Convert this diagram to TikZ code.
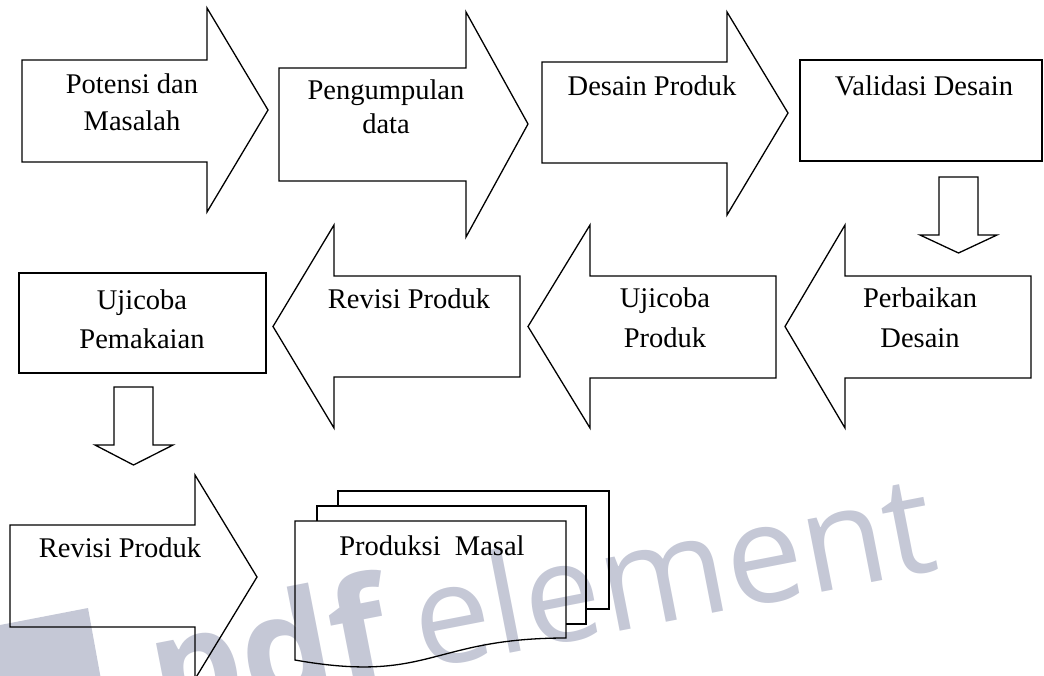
\documentclass[tikz,border=0pt]{standalone}
\usepackage{fontspec}
\setmainfont{Liberation Serif}
\newfontfamily\wmfont{Open Sans}
\definecolor{wm}{RGB}{197,200,214}
\tikzset{
  blk/.style={draw=black, line width=1.3pt, line join=miter},
  lbl/.style={anchor=base, inner sep=0pt, font=\fontsize{28.5}{34}\selectfont},
  wmtxt/.style={anchor=base west, inner sep=0pt, text=wm, rotate=11},
}
\begin{document}
\begin{tikzpicture}[x=1pt,y=-1pt]
\useasboundingbox (0,0) rectangle (1044,675);
\clip (0,0) rectangle (1044,675);
% watermark
\fill[wm] (0,625) -- (88,608) -- (102,685) -- (0,685) -- cycle;
\node[wmtxt, font=\wmfont\bfseries\fontsize{145}{145}\selectfont] (wmpdf) at (160,724) {pdf};
\node[wmtxt, font=\wmfont\fontsize{138}{138}\selectfont] (wmel) at (422,670) {element};
% row 1
\draw[blk] (22,60) -- (207,60) -- (207,8) -- (268,110) -- (207,212) -- (207,162) -- (22,162) -- cycle;
\draw[blk] (279,68) -- (466,68) -- (466,12) -- (528,124) -- (466,237) -- (466,181) -- (279,181) -- cycle;
\draw[blk] (542,62) -- (727,62) -- (727,12) -- (788,113) -- (727,215) -- (727,163) -- (542,163) -- cycle;
\draw[blk] (800,60) rectangle (1042,161);
\draw[blk] (939,177) -- (978,177) -- (978,235) -- (997,235) -- (958.5,253) -- (920,235) -- (939,235) -- cycle;
% row 2
\draw[blk] (1031,276) -- (845,276) -- (845,225) -- (785,326.5) -- (845,428) -- (845,378) -- (1031,378) -- cycle;
\draw[blk] (776,276) -- (590,276) -- (590,225) -- (528,326.5) -- (590,428) -- (590,378) -- (776,378) -- cycle;
\draw[blk] (520,276) -- (334,276) -- (334,225) -- (273,326.5) -- (334,428) -- (334,377) -- (520,377) -- cycle;
\draw[blk] (19,273) rectangle (266,373);
\draw[blk] (114,387) -- (153,387) -- (153,445) -- (173,445) -- (133.5,465) -- (95,445) -- (114,445) -- cycle;
% row 3
\draw[blk] (10,525) -- (195,525) -- (195,475) -- (257,577) -- (195,679) -- (195,627) -- (10,627) -- cycle;
\draw[blk] (338,506) -- (338,491) -- (609,491) -- (609,609) -- (586,609);
\draw[blk] (317,521) -- (317,506) -- (586,506) -- (586,624) -- (566,624);
\draw[blk] (295,521) -- (566,521) -- (566,638) .. controls (430,638) and (430,684) .. (295,660) -- cycle;
% labels
\node[lbl] (t1a) at (132,93) {Potensi dan};
\node[lbl] (t1b) at (132,130) {Masalah};
\node[lbl] (t2a) at (386,99) {Pengumpulan};
\node[lbl] (t2b) at (386,133) {data};
\node[lbl] (t3) at (652,95) {Desain Produk};
\node[lbl] (t4) at (924,95) {Validasi Desain};
\node[lbl] (t5a) at (920,307) {Perbaikan};
\node[lbl] (t5b) at (920,347) {Desain};
\node[lbl] (t6a) at (665,307) {Ujicoba};
\node[lbl] (t6b) at (665,347) {Produk};
\node[lbl] (t7) at (409,308) {Revisi Produk};
\node[lbl] (t8a) at (142,309) {Ujicoba};
\node[lbl] (t8b) at (142,348) {Pemakaian};
\node[lbl] (t9) at (120,557) {Revisi Produk};
\node[lbl] (t10) at (432,555) {Produksi\ \ Masal};
\end{tikzpicture}
\end{document}
